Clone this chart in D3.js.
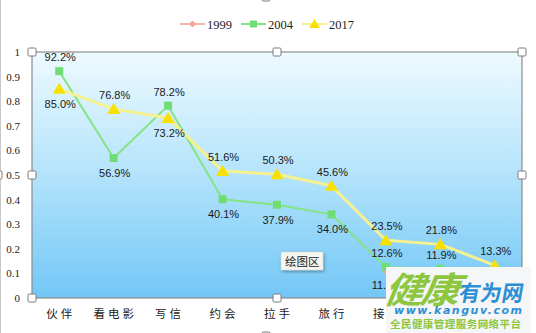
<!DOCTYPE html>
<html>
<head>
<meta charset="utf-8">
<script src="https://cdn.jsdelivr.net/npm/d3@7"></script>
<style>
  html, body { margin: 0; padding: 0; background: #ffffff; }
  svg { display: block; }
</style>
</head>
<body>
<svg id="chart" width="536" height="333"></svg>
<script>
// Activity categories along the x axis
const categories = ["伙伴", "看电影", "写信", "约会", "拉手", "旅行", "接吻", "同居", "结婚"];
// Share of respondents per year (null = no value)
const values1999 = [null, null, null, null, null, null, 0.113, null, null];
const values2004 = [0.922, 0.569, 0.782, 0.401, 0.379, 0.340, 0.126, 0.119, 0.074];
const values2017 = [0.850, 0.768, 0.732, 0.516, 0.503, 0.456, 0.235, 0.218, 0.133];
// Which side of the point each value label sits on
const side1999 = [null, null, null, null, null, null, "below", null, null];
const side2004 = ["above", "below", "above", "below", "below", "below", "above", "above", "below"];
const side2017 = ["below", "above", "below", "above", "above", "above", "above", "above", "above"];
// Y axis tick values and legend entries
const yTicks = [0, 0.1, 0.2, 0.3, 0.4, 0.5, 0.6, 0.7, 0.8, 0.9, 1];
const seriesNames = ["1999", "2004", "2017"];

const svg = d3.select("#chart");
const plot = { left: 32, right: 522, top: 52, bottom: 298 };

const x = d3.scaleBand().domain(categories).range([plot.left, plot.right]);
const y = d3.scaleLinear().domain([0, 1]).range([plot.bottom, plot.top]);
const cx = c => x(c) + x.bandwidth() / 2;

const series = [
  { name: seriesNames[0], values: values1999, sides: side1999, line: "#f4b4ae", marker: "#f2a49b", shape: "diamond", lw: 2 },
  { name: seriesNames[1], values: values2004, sides: side2004, line: "#82e482", marker: "#6fdc74", shape: "square", lw: 2 },
  { name: seriesNames[2], values: values2017, sides: side2017, line: "#f6f190", marker: "#f8e000", shape: "triangle", lw: 3 }
];

// plot-area gradient
const defs = svg.append("defs");
const grad = defs.append("linearGradient").attr("id", "bg").attr("x1", 0).attr("y1", 0).attr("x2", 0).attr("y2", 1);
grad.append("stop").attr("offset", "0%").attr("stop-color", "#eefaff");
grad.append("stop").attr("offset", "50%").attr("stop-color", "#b3e3fb");
grad.append("stop").attr("offset", "100%").attr("stop-color", "#72c7f6");
const shadow = defs.append("filter").attr("id", "shadow").attr("x", "-20%").attr("y", "-30%").attr("width", "150%").attr("height", "180%");
shadow.append("feDropShadow").attr("dx", 1).attr("dy", 1.5).attr("stdDeviation", 1.5).attr("flood-color", "#000").attr("flood-opacity", 0.35);

// outer chart border (left edge visible)
svg.append("line").attr("x1", 0.5).attr("x2", 0.5).attr("y1", 0).attr("y2", 333)
  .attr("stroke", "#c8c8c8").attr("stroke-width", 1);

svg.append("rect")
  .attr("x", plot.left).attr("y", plot.top)
  .attr("width", plot.right - plot.left).attr("height", plot.bottom - plot.top)
  .attr("fill", "url(#bg)").attr("stroke", "#8c8c8c").attr("stroke-width", 1.2);

// Y axis
const yAxis = svg.append("g").attr("transform", `translate(${plot.left},0)`)
  .call(d3.axisLeft(y).tickValues(yTicks).tickSize(0).tickPadding(12).tickFormat(d => d === 0 ? "0" : d === 1 ? "1" : d3.format(".1f")(d)));
yAxis.select(".domain").remove();
yAxis.selectAll("text").attr("font-family", "Liberation Serif, serif").attr("font-size", 11).attr("fill", "#222");

// X axis
const xAxis = svg.append("g").attr("transform", `translate(0,${plot.bottom})`)
  .call(d3.axisBottom(x).tickSize(0).tickPadding(12));
xAxis.select(".domain").remove();
xAxis.selectAll("text").attr("font-family", "Noto Sans CJK SC, sans-serif").attr("font-size", 11.5)
  .attr("letter-spacing", 3).attr("fill", "#222").attr("dx", 1.5);

function markerPath(shape, size) {
  if (shape === "square") return d3.symbol(d3.symbolSquare, size * size)();
  if (shape === "triangle") return `M0,${-size * 0.55}L${size * 0.6},${size * 0.45}L${-size * 0.6},${size * 0.45}Z`;
  return `M0,${-size / 2}L${size / 2},0L0,${size / 2}L${-size / 2},0Z`;
}

// lines, markers
series.forEach(s => {
  const pts = categories.map((c, i) => ({ c, v: s.values[i], side: s.sides[i] }));
  const line = d3.line().defined(d => d.v != null).x(d => cx(d.c)).y(d => y(d.v));
  svg.append("path").datum(pts).attr("d", line).attr("fill", "none")
    .attr("stroke", s.line).attr("stroke-width", s.lw).attr("stroke-linejoin", "round");
  s.pts = pts;
});
series.forEach(s => {
  const sz = s.shape === "square" ? 8 : s.shape === "triangle" ? 11 : 9;
  svg.append("g").selectAll("path").data(s.pts.filter(d => d.v != null)).join("path")
    .attr("transform", d => `translate(${cx(d.c)},${y(d.v)})`)
    .attr("d", markerPath(s.shape, sz)).attr("fill", s.marker);
});
// value labels
series.forEach(s => {
  svg.append("g").selectAll("text").data(s.pts.filter(d => d.v != null)).join("text")
    .attr("x", d => cx(d.c) + 1)
    .attr("y", d => y(d.v) + (d.side === "above" ? -10 : 19))
    .attr("text-anchor", "middle")
    .attr("font-family", "Liberation Sans, Arial, sans-serif").attr("font-size", 11)
    .attr("fill", "#1a1a1a")
    .text(d => d3.format(".1%")(d.v));
});

// legend
const legend = svg.append("g");
const legendX = [180, 241, 302];
series.forEach((s, i) => {
  const g = legend.append("g").attr("transform", `translate(${legendX[i]},24)`);
  g.append("line").attr("x1", 0).attr("x2", 25).attr("stroke", s.line).attr("stroke-width", 2);
  const sz = s.shape === "square" ? 7 : s.shape === "triangle" ? 9 : 7;
  g.append("path").attr("transform", "translate(12.5,0)").attr("d", markerPath(s.shape, sz)).attr("fill", s.marker);
  g.append("text").attr("x", 27).attr("y", 5).attr("font-family", "Liberation Serif, serif")
    .attr("font-size", 12.5).attr("fill", "#222").text(s.name);
});

// selection handles around the plot area and chart
const handles = [
  [plot.left, plot.top], [(plot.left + plot.right) / 2, plot.top], [plot.right, plot.top],
  [plot.left, (plot.top + plot.bottom) / 2], [plot.right, (plot.top + plot.bottom) / 2],
  [plot.left, plot.bottom], [(plot.left + plot.right) / 2, plot.bottom], [plot.right, plot.bottom],
  [-2, 175], [266, -3], [266, 336]
];
svg.append("g").selectAll("rect").data(handles).join("rect")
  .attr("x", d => d[0] - 4).attr("y", d => d[1] - 4).attr("width", 8).attr("height", 8)
  .attr("rx", 1.2).attr("fill", "#ffffff").attr("stroke", "#7a7a7a").attr("stroke-width", 1);

// hover tip for the plot area
const tip = svg.append("g").attr("transform", "translate(281,252)");
tip.append("rect").attr("width", 42).attr("height", 18).attr("fill", "#f6f6f1")
  .attr("stroke", "#d0d0d0").attr("stroke-width", 0.5).attr("filter", "url(#shadow)");
tip.append("text").attr("x", 4).attr("y", 13.5).attr("font-family", "Noto Sans CJK SC, sans-serif")
  .attr("font-size", 11.5).attr("fill", "#222").text("绘图区");

// site badge in the lower right corner
const badge = svg.append("g").attr("transform", "translate(386,267)");
badge.append("rect").attr("width", 145).attr("height", 66).attr("fill", "#f4f6f7");
badge.append("text").attr("x", 2).attr("y", 36).attr("font-family", "Noto Sans CJK SC, sans-serif")
  .attr("font-size", 36).attr("font-weight", 700).attr("font-style", "italic")
  .attr("fill", "#8dc63f").attr("letter-spacing", -3).attr("transform", "skewX(-8)")
  .attr("textLength", 72).attr("lengthAdjust", "spacingAndGlyphs").text("健康");
badge.append("text").attr("x", 72).attr("y", 34).attr("font-family", "Noto Sans CJK SC, sans-serif")
  .attr("font-size", 22).attr("font-weight", 700)
  .attr("fill", "#2c8fd3").attr("textLength", 64).attr("lengthAdjust", "spacingAndGlyphs")
  .attr("transform", "skewX(-10) translate(6,0)").text("有为网");
badge.append("text").attr("x", 8).attr("y", 47).attr("font-family", "DejaVu Sans, sans-serif")
  .attr("font-size", 11).attr("font-weight", 700).attr("font-style", "italic")
  .attr("fill", "#2c8fd3").attr("textLength", 128).attr("lengthAdjust", "spacing").text("www.kanguv.com");
badge.append("text").attr("x", 4).attr("y", 61).attr("font-family", "Noto Sans CJK SC, sans-serif")
  .attr("font-size", 10.5).attr("font-weight", 700)
  .attr("fill", "#8dc63f").attr("textLength", 131).attr("lengthAdjust", "spacing").text("全民健康管理服务网络平台");
</script>
</body>
</html>
